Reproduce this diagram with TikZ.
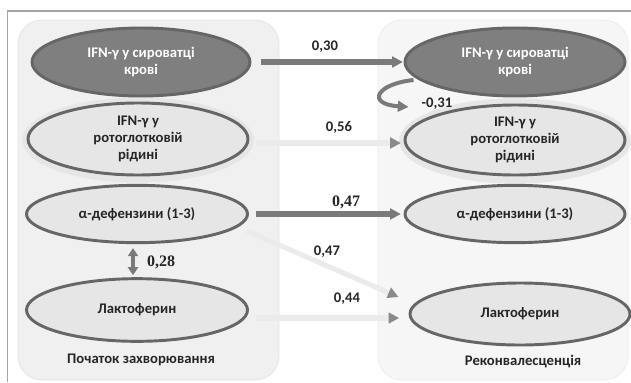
\documentclass[tikz,border=0pt]{standalone}
\usepackage{fontspec}
\setmainfont{Carlito}[BoldFont={Carlito Bold}]
\newfontfamily\serifnum{Liberation Serif}[BoldFont={Liberation Serif Bold}]
\usetikzlibrary{shapes.geometric,arrows.meta,calc}
\definecolor{frame}{HTML}{A6A6A6}
\definecolor{panelL}{HTML}{F0F0F0}
\definecolor{panelR}{HTML}{F6F6F6}
\definecolor{darkfill}{HTML}{7F7F7F}
\definecolor{lightfill}{HTML}{E6E6E6}
\definecolor{rim}{HTML}{666666}
\definecolor{halo}{HTML}{E6E6E6}
\definecolor{strong}{HTML}{7A7A7A}
\definecolor{weak}{HTML}{EBEBEB}
\definecolor{tip}{HTML}{8A8A8A}
\definecolor{txt}{HTML}{262626}
\tikzset{
  x=0.75pt, y=-0.75pt,
  panel/.style={rounded corners=18pt, line width=0.6pt},
  ell/.style={ellipse, draw=rim, line width=2.2pt, align=center,
    font=\bfseries\fontsize{11}{12.5}\selectfont, inner sep=0pt},
  darkell/.style={ell, fill=darkfill, text=white},
  lightell/.style={ell, fill=lightfill, text=txt},
  haloell/.style={ellipse, fill=halo, inner sep=0pt},
  lab/.style={font=\bfseries\fontsize{11}{13}\selectfont, text=txt},
  slab/.style={font=\serifnum\bfseries\fontsize{12}{14}\selectfont, text=txt},
  plab/.style={font=\bfseries\fontsize{11}{13}\selectfont, text=txt},
  strongarrow/.style={draw=strong, line width=3.8pt,
    -{Triangle[length=8pt,width=8pt,color=strong]}},
  weakarrow/.style={draw=weak, line width=3.8pt,
    -{Triangle[length=8pt,width=8pt,color=tip]}},
}
\begin{document}
\begin{tikzpicture}
\useasboundingbox (0,0) rectangle (631,382);
% frame
\draw[frame, line width=1.1pt] (7.5,382) -- (7.5,11) -- (631,11);
% panels
\filldraw[panel, fill=panelL, draw=panelL!95!black] (18,20) rectangle (279,380);
\filldraw[panel, fill=panelR, draw=panelR!95!black] (378,20) rectangle (628,380);
% halos
\node[haloell, minimum width=174pt, minimum height=64pt] (HL) at (138,140) {};
\node[haloell, minimum width=174pt, minimum height=64pt] (HR) at (515,141) {};
% left ellipses
\node[darkell, minimum width=163.5pt, minimum height=51pt] (L1) at (141,62) {IFN-γ у сироватці\\крові};
\node[lightell, minimum width=165pt, minimum height=54pt] (L2) at (138,139) {IFN-γ у\\ротоглотковій\\рідині};
\node[lightell, minimum width=165.75pt, minimum height=43pt] (L3) at (137,214) {α-дефензини (1-3)};
\node[lightell, minimum width=165.75pt, minimum height=47pt] (L4) at (137,310) {Лактоферин};
% right ellipses
\node[darkell, minimum width=165pt, minimum height=51pt] (R1) at (515,62) {IFN-γ у сироватці\\крові};
\node[lightell, minimum width=165pt, minimum height=52.5pt] (R2) at (515,140) {IFN-γ у\\ротоглотковій\\рідині};
\node[lightell, minimum width=165pt, minimum height=43pt] (R3) at (515,214) {α-дефензини (1-3)};
\node[lightell, minimum width=165pt, minimum height=46.5pt] (R4) at (520,314) {Лактоферин};
% panel labels
\node[plab] (PL) at (141,360) {Початок захворювання};
\node[plab] (PR) at (523,362) {Реконвалесценція};
% connectors
\draw[strongarrow, shorten <=7.5pt, shorten >=0.5pt] (L1.east) -- (R1.west);
\draw[weakarrow, shorten <=5pt, shorten >=2pt] ($(L2.east)+(0,4)$) -- ($(R2.west)+(0,3)$);
\draw[strongarrow, shorten <=5pt, shorten >=2pt] (L3.east) -- (R3.west);
\coordinate (D1) at ($(L3.east)+(-2,17)$);
\coordinate (D2) at ($(R4.west)+(-10,-17)$);
\draw[weakarrow] (D1) -- (D2);
\draw[weakarrow, shorten <=5pt, shorten >=7pt] ($(L4.east)+(0,8)$) -- ($(R4.west)+(0,4)$);
% curved
\coordinate (C1) at ($(R1.west)+(10,18)$);
\coordinate (C2) at ($(R1.west)+(5,45)$);
\draw[draw=strong, line width=3pt, -{Triangle[length=8pt,width=8pt,color=strong]}]
  (C1) .. controls (376,84) and (366,104) .. (C2);
% double arrow
\draw[draw=strong, line width=3.5pt,
  {Triangle[length=6pt,width=7.5pt,color=strong]}-{Triangle[length=6pt,width=7.5pt,color=strong]}]
  ($(L3.south)+(-4,4)$) -- ($(L4.north)+(-4,-2)$);
% labels
\node[lab] (A) at (325,47) {0,30};
\node[lab] (B) at (437,104) {-0,31};
\node[lab] (C) at (339,127) {0,56};
\node[slab] (D) at (346,202) {0,47};
\node[lab] (E) at (327,252) {0,47};
\node[lab] (F) at (347,299) {0,44};
\node[slab] (G) at (161,262) {0,28};
\end{tikzpicture}
\end{document}
